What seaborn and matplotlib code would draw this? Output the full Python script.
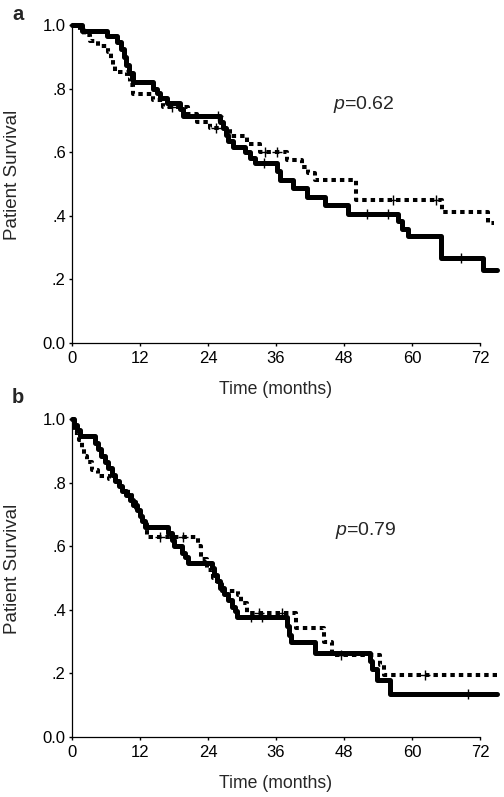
import numpy as np
import pandas as pd
import matplotlib
matplotlib.use("Agg")
import matplotlib.pyplot as plt
import seaborn as sns

sns.set_style("ticks")
plt.rcParams['font.family'] = ['Liberation Sans', 'DejaVu Sans']
plt.rcParams['mathtext.fontset'] = 'custom'
plt.rcParams['mathtext.it'] = 'Liberation Sans:italic'
plt.rcParams['mathtext.rm'] = 'Liberation Sans'

# Panel a - Kaplan-Meier step points (months, survival)
a_solid_t = [0, 1.7, 6.1, 8.0, 8.6, 9.1, 9.5, 10.0, 10.8, 14.3, 15.0, 15.6, 16.7, 19.0, 19.6,
             26.1, 26.6, 27.1, 27.6, 28.4, 30.5, 31.4, 32.3, 36.1, 36.7, 39.0, 41.4, 44.6,
             48.7, 57.5, 58.3, 59.3, 65.2, 72.5, 75]
a_solid_s = [1.0, 0.98, 0.965, 0.945, 0.925, 0.90, 0.875, 0.85, 0.82, 0.80, 0.785, 0.77, 0.755,
             0.735, 0.715, 0.695, 0.675, 0.655, 0.635, 0.617, 0.60, 0.583, 0.566, 0.54, 0.513,
             0.487, 0.46, 0.434, 0.405, 0.385, 0.36, 0.336, 0.267, 0.23, 0.23]
a_dash_t = [0, 1.4, 2.2, 3.2, 4.5, 6.4, 6.8, 7.2, 7.6, 9.7, 10.2, 10.8, 14.3, 16.0, 20.5, 22.0,
            24.3, 27.9, 30.8, 33.2, 37.9, 40.5, 41.7, 42.9, 50.2, 65.3, 73.4, 74.5]
a_dash_s = [1.0, 0.985, 0.97, 0.95, 0.935, 0.915, 0.89, 0.87, 0.853, 0.835, 0.81, 0.782, 0.765,
            0.743, 0.72, 0.696, 0.675, 0.65, 0.625, 0.60, 0.575, 0.555, 0.535, 0.513, 0.45,
            0.412, 0.377, 0.377]
a_solid_cens_t = [25.8, 33.8, 52.0, 55.8, 68.7]
a_solid_cens_s = [0.715, 0.566, 0.405, 0.405, 0.267]
a_dash_cens_t = [17.6, 25.4, 34.1, 36.1, 56.6, 64.3]
a_dash_cens_s = [0.743, 0.675, 0.60, 0.60, 0.45, 0.45]

# Panel b
b_solid_t = [0, 0.4, 0.8, 1.4, 4.1, 4.6, 5.2, 5.8, 6.4, 7.0, 7.6, 8.3, 8.9, 9.5, 10.2, 10.8,
             11.4, 12.0, 12.4, 12.9, 17.0, 17.6, 18.0, 19.4, 20.0, 20.5, 24.7, 25.1, 25.5,
             26.1, 26.8, 27.5, 28.2, 28.8, 29.1, 37.9, 38.3, 38.7, 42.9, 52.6, 53.0, 53.8,
             56.1, 75]
b_solid_s = [1.0, 0.98, 0.965, 0.945, 0.925, 0.905, 0.885, 0.865, 0.845, 0.825, 0.805, 0.79,
             0.775, 0.76, 0.745, 0.73, 0.715, 0.695, 0.68, 0.66, 0.64, 0.62, 0.60, 0.58, 0.565,
             0.547, 0.53, 0.51, 0.49, 0.47, 0.45, 0.43, 0.41, 0.395, 0.378, 0.35, 0.32, 0.30,
             0.263, 0.24, 0.215, 0.178, 0.134, 0.134]
b_dash_t = [0, 0.3, 1.2, 1.7, 2.2, 2.6, 3.5, 4.6, 6.5, 7.5, 8.8, 9.8, 10.6, 11.3, 12.0, 12.6,
            13.2, 22.3, 22.8, 23.8, 24.8, 25.5, 26.5, 29.3, 29.8, 30.8, 39.6, 44.4, 45.8, 54.3,
            55.0, 75]
b_dash_s = [1.0, 0.955, 0.935, 0.91, 0.885, 0.865, 0.84, 0.82, 0.81, 0.795, 0.78, 0.76, 0.74,
            0.72, 0.70, 0.67, 0.63, 0.60, 0.56, 0.525, 0.50, 0.48, 0.46, 0.446, 0.42, 0.39,
            0.343, 0.30, 0.258, 0.225, 0.195, 0.195]
b_solid_cens_t = [31.5, 33.5, 69.9]
b_solid_cens_s = [0.378, 0.378, 0.134]
b_dash_cens_t = [15.6, 19.6, 33.0, 37.0, 47.5, 62.3]
b_dash_cens_s = [0.63, 0.63, 0.39, 0.39, 0.258, 0.195]

yticks = [0, 0.2, 0.4, 0.6, 0.8, 1.0]
ytick_labels = ["0.0", ".2", ".4", ".6", ".8", "1.0"]
xticks = [0, 12, 24, 36, 48, 60, 72]

panels = [
    ("a", a_solid_t, a_solid_s, a_dash_t, a_dash_s, a_solid_cens_t, a_solid_cens_s,
     a_dash_cens_t, a_dash_cens_s, "p=0.62", (46, 0.75)),
    ("b", b_solid_t, b_solid_s, b_dash_t, b_dash_s, b_solid_cens_t, b_solid_cens_s,
     b_dash_cens_t, b_dash_cens_s, "p=0.79", (46.4, 0.65)),
]

W, H = 504, 797
fig = plt.figure(figsize=(W / 100, H / 100), dpi=100)
# axes boxes in pixels: left, top, right, bottom
boxes = [(72, 25, 497, 343), (72, 419, 497, 737)]
label_y = [20, 403]

for (name, st, ss, dt, ds, sct, scs, dct, dcs, ptxt, ppos), box, ly in zip(panels, boxes, label_y):
    l, t, r, b = box
    ax = fig.add_axes([l / W, 1 - b / H, (r - l) / W, (b - t) / H])
    sns.lineplot(x=st, y=ss, ax=ax, color="black", lw=3.6, drawstyle="steps-post",
                 estimator=None, sort=False, clip_on=False)
    sns.lineplot(x=dt, y=ds, ax=ax, color="black", lw=2.9, drawstyle="steps-post",
                 linestyle=(0, (1.1, 1.0)), dash_capstyle="butt",
                 estimator=None, sort=False, clip_on=False)
    sns.scatterplot(x=sct, y=scs, ax=ax, marker="+", s=45, color="black", linewidth=1,
                    clip_on=False, zorder=3)
    sns.scatterplot(x=dct, y=dcs, ax=ax, marker="+", s=45, color="black", linewidth=1,
                    clip_on=False, zorder=3)

    ax.set_xlim(0, 75)
    ax.set_ylim(0, 1.0)
    ax.set_xticks(xticks)
    ax.set_yticks(yticks)
    ax.set_yticklabels(ytick_labels)
    ax.tick_params(labelsize=12, length=2.5, width=1, pad=2, colors="black")
    ax.tick_params(axis="x", pad=3)
    sns.despine(ax=ax)
    ax.spines["bottom"].set_bounds(0, 72)
    ax.spines["left"].set_bounds(0, 1.0)
    for sp in ["left", "bottom"]:
        ax.spines[sp].set_linewidth(0.9)
        ax.spines[sp].set_color("black")

    ax.set_xlabel("Time (months)", fontsize=12.7)
    ax.xaxis.set_label_coords(36 / 75, -38 / (b - t))
    ax.set_ylabel("Patient Survival", fontsize=13.5)
    ax.yaxis.set_label_coords((21 - l) / (r - l), 0.53)

    ax.text(ppos[0], ppos[1], r"$\it{p}$" + ptxt[1:], fontsize=14, va="center", ha="left")
    fig.text(12 / W, 1 - ly / H, name, fontsize=14.5, fontweight="bold", va="baseline")

fig.savefig("out.png", dpi=100)
